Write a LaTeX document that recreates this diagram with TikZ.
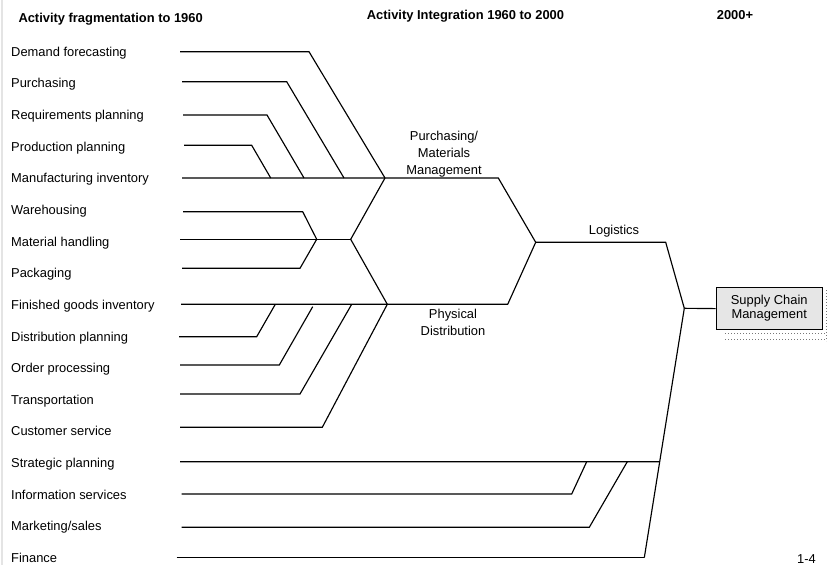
\documentclass[tikz,border=0pt]{standalone}
\usepackage{fontspec}
\setmainfont{Liberation Sans}
\usetikzlibrary{calc}

\definecolor{boxfill}{RGB}{230,230,230}
\definecolor{shadowdot}{RGB}{120,120,120}
\definecolor{edgegray}{RGB}{228,228,228}

\tikzset{
  lbl/.style={anchor=base west, inner sep=0pt, font=\fontsize{12.9}{15}\selectfont},
  ttl/.style={anchor=base, inner sep=0pt, font=\fontsize{12.9}{15}\selectfont\bfseries},
  mid/.style={anchor=north, inner sep=0pt, align=center,
              font=\fontsize{12.9}{17}\selectfont},
  branch/.style={line width=1.15pt, black, line join=miter},
  scmbox/.style={draw=black, fill=boxfill, line width=1pt, minimum width=106pt,
                 minimum height=41.5pt, inner sep=0pt, align=center,
                 font=\fontsize{12.9}{14}\selectfont},
  shadow dots/.style={shadowdot, line width=1pt, dash pattern=on 1pt off 2pt}
}

\begin{document}
\begin{tikzpicture}[x=1pt, y=-1pt]
  \fill[white] (0,0) rectangle (827,565);
  \useasboundingbox (0,0) rectangle (827,565);
  \draw[edgegray, line width=2pt] (1.5,0) -- (1.5,565);

  % column headings
  \node[ttl, anchor=base west] (h1) at (18.3,22.5) {Activity fragmentation to 1960};
  \node[ttl] (h2) at (465.5,19.6) {Activity Integration 1960 to 2000};
  \node[ttl] (h3) at (735,19.6) {2000+};

  % activity labels
  \node[lbl] (l0)  at (11,56.3)  {Demand forecasting};
  \node[lbl] (l1)  at (11,87.9)  {Purchasing};
  \node[lbl] (l2)  at (11,119.6) {Requirements planning};
  \node[lbl] (l3)  at (11,151.2) {Production planning};
  \node[lbl] (l4)  at (11,182.8) {Manufacturing inventory};
  \node[lbl] (l5)  at (11,214.5) {Warehousing};
  \node[lbl] (l6)  at (11,246.1) {Material handling};
  \node[lbl] (l7)  at (11,277.7) {Packaging};
  \node[lbl] (l8)  at (11,309.3) {Finished goods inventory};
  \node[lbl] (l9)  at (11,341.0) {Distribution planning};
  \node[lbl] (l10) at (11,372.6) {Order processing};
  \node[lbl] (l11) at (11,404.2) {Transportation};
  \node[lbl] (l12) at (11,435.9) {Customer service};
  \node[lbl] (l13) at (11,467.5) {Strategic planning};
  \node[lbl] (l14) at (11,499.1) {Information services};
  \node[lbl] (l15) at (11,530.8) {Marketing/sales};
  \node[lbl] (l16) at (11,562.4) {Finance};

  % junctions and bends
  \coordinate (J1) at (385,178);      % purchasing / materials management
  \coordinate (J2) at (316.7,239.3);  % material handling
  \coordinate (J3) at (350.7,239.3);
  \coordinate (J4) at (387.3,304.3);  % physical distribution
  \coordinate (pm) at (498.3,178);
  \coordinate (pd) at (507.7,304.3);
  \coordinate (L)  at (535.7,242.3);  % logistics
  \coordinate (lg) at (665.7,242.3);
  \coordinate (S)  at (684.3,308.3);  % supply chain management
  \coordinate (F)  at (644.3,557.7);

  \coordinate (a0) at (180,51.7);    \coordinate (b0) at (309,51.7);
  \coordinate (a1) at (182,81.7);    \coordinate (b1) at (286.7,81.7);  \coordinate (c1) at (344,178);
  \coordinate (a2) at (183,115);     \coordinate (b2) at (267,115);     \coordinate (c2) at (304,178);
  \coordinate (a3) at (184,145.3);   \coordinate (b3) at (251.7,145.3); \coordinate (c3) at (270.7,178);
  \coordinate (a4) at (182,178);
  \coordinate (a5) at (183,211.7);   \coordinate (b5) at (302.7,211.7);
  \coordinate (a6) at (180,239.3);
  \coordinate (a7) at (182,268.3);   \coordinate (b7) at (300,268.3);
  \coordinate (a8) at (181,304.3);
  \coordinate (a9) at (179,336.7);   \coordinate (b9) at (256.7,336.7);  \coordinate (c9) at (275.3,304.3);
  \coordinate (a10) at (180,365);    \coordinate (b10) at (279.3,365);   \coordinate (c10) at (312.7,306.7);
  \coordinate (a11) at (180,394);    \coordinate (b11) at (300,394);     \coordinate (c11) at (351.7,304.3);
  \coordinate (a12) at (180,427.3);  \coordinate (b12) at (322.3,427.3);
  \coordinate (a13) at (180,461.7);  \coordinate (c13) at ($(S)!0.615!(F)$);
  \coordinate (a14) at (181.7,494);  \coordinate (b14) at (571.7,494);   \coordinate (c14) at (586.7,461.7);
  \coordinate (a15) at (181.7,527.3);\coordinate (b15) at (589.3,527.3); \coordinate (c15) at (627.3,461.7);
  \coordinate (a16) at (176.7,557.7);

  % purchasing / materials management branch
  \draw[branch] (a0) -- (b0) -- (J1);
  \draw[branch] (a1) -- (b1) -- (c1);
  \draw[branch] (a2) -- (b2) -- (c2);
  \draw[branch] (a3) -- (b3) -- (c3);
  \draw[branch] (a4) -- (J1) -- (pm) -- (L);

  % material handling feeds both
  \draw[branch] (a5) -- (b5) -- (J2);
  \draw[branch] (a7) -- (b7) -- (J2);
  \draw[branch] (a6) -- (J2) -- (J3);
  \draw[branch] (J1) -- (J3) -- (J4);

  % physical distribution branch
  \draw[branch] (a8) -- (J4) -- (pd) -- (L);
  \draw[branch] (a9) -- (b9) -- (c9);
  \draw[branch] (a10) -- (b10) -- (c10);
  \draw[branch] (a11) -- (b11) -- (c11);
  \draw[branch] (a12) -- (b12) -- (J4);

  % logistics and supply chain management
  \draw[branch] (L) -- (lg) -- (S);
  \draw[branch] (S) -- (F);
  \draw[branch] (a13) -- (c13);
  \draw[branch] (a14) -- (b14) -- (c14);
  \draw[branch] (a15) -- (b15) -- (c15);
  \draw[branch] (a16) -- (F);

  % box with dotted shadow
  \draw[shadow dots] (826,290) -- (826,341);
  \draw[shadow dots] (725,333.3) -- (826,333.3);
  \draw[shadow dots] (725,339) -- (826,339);
  \node[scmbox] (scm) at (769.2,308.6) {Supply Chain\\Management};
  \draw[branch] (S) -- (scm.west);

  % integration labels
  \node[mid] (pmm) at (444,131) {Purchasing/\\Materials\\Management};
  \node[mid, font=\fontsize{12.9}{16.4}\selectfont] (phd) at (453,309.3) {Physical\\Distribution};
  \node[ttl, font=\fontsize{12.9}{15}\selectfont] (log) at (614,234.3) {Logistics};

  \node[lbl] (pg) at (797,563.6) {1-4};
\end{tikzpicture}
\end{document}
